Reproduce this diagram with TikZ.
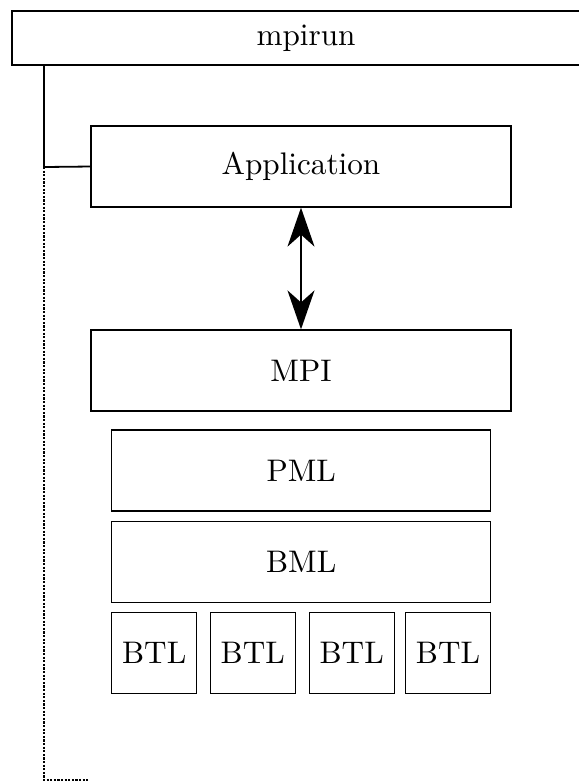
\documentclass[tikz,border=0pt]{standalone}
\usepackage{tikz}
\usetikzlibrary{arrows.meta}

\begin{document}
\begin{tikzpicture}[x=0.3333pt, y=-0.3333pt,
        >={Stealth[length=13pt, width=9pt, inset=4pt]},
        box/.style={draw, inner sep=0pt, font=\fontsize{10.4pt}{12pt}\selectfont},
        wide/.style={box, minimum width=140pt, minimum height=27pt},
        layer/.style={box, minimum width=126.3pt, minimum height=27pt},
        btl/.style={box, minimum width=28.3pt, minimum height=27pt}]
        \useasboundingbox (0, 0) rectangle (579, 782);

        \node[box, minimum width=196pt, minimum height=18pt] (mpirun) at (306, 38) {mpirun};
        \node[wide] (app) at (301, 166.5) {Application};
        \node[wide] (mpi) at (301, 370.5) {MPI};
        \node[layer] (pml) at (301.2, 470.5) {PML};
        \node[layer] (bml) at (301.2, 562) {BML};
        \node[btl] (btl1) at (154.2, 652.8) {BTL};
        \node[btl] (btl2) at (252.8, 652.8) {BTL};
        \node[btl] (btl3) at (351.7, 652.8) {BTL};
        \node[btl] (btl4) at (448, 652.8) {BTL};

        \coordinate (fork) at (44, 167);
        \coordinate (stop) at (89, 780);

        \draw[semithick] (mpirun.south -| fork) -- (fork) -- (app.west);
        \draw[line width=0.7pt, dash pattern=on 0.7pt off 0.5pt] (fork) |- (stop);
        \draw[semithick, <->] (app.south) to (mpi.north);
      \end{tikzpicture}
\end{document}
